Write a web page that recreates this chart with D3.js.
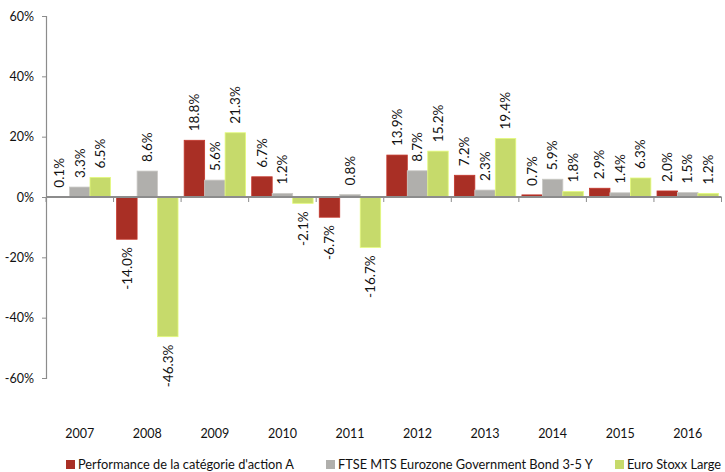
<!DOCTYPE html>
<html>
<head>
<meta charset="utf-8">
<script src="https://cdn.jsdelivr.net/npm/d3@7"></script>
<style>
  body { margin: 0; background: #fff; }
  svg { display: block; font-family: Lato, "Open Sans", sans-serif; }
</style>
</head>
<body>
<svg id="chart" width="725" height="472"></svg>
<script>
// Annual performance by year, in percent
const years = ["2007", "2008", "2009", "2010", "2011", "2012", "2013", "2014", "2015", "2016"];
const seriesNames = [
  "Performance de la catégorie d'action A",
  "FTSE MTS Eurozone Government Bond 3-5 Y",
  "Euro Stoxx Large"
];
const shareClassA = [0.1, -14.0, 18.8, 6.7, -6.7, 13.9, 7.2, 0.7, 2.9, 2.0];
const bondIndex   = [3.3, 8.6, 5.6, 1.2, 0.8, 8.7, 2.3, 5.9, 1.4, 1.5];
const euroStoxx   = [6.5, -46.3, 21.3, -2.1, -16.7, 15.2, 19.4, 1.8, 6.3, 1.2];
const yTicks = [-60, -40, -20, 0, 20, 40, 60];
const colors = ["#A92F25", "#B0AFAC", "#C6DA6B"];

const seriesValues = [shareClassA, bondIndex, euroStoxx];

const svg = d3.select("#chart");
const margin = { left: 46, right: 4, top: 16, bottom: 94 };

const x = d3.scaleBand().domain(years).range([margin.left, 721.5]).paddingInner(0).paddingOuter(0);
const xInner = d3.scaleBand().domain(d3.range(3)).range([0, x.bandwidth()]).paddingOuter(0.15).paddingInner(0);
const y = d3.scaleLinear().domain([-60, 60]).range([378, 16]);

// Y axis
const yAxis = svg.append("g")
  .attr("transform", `translate(${margin.left},0)`)
  .call(d3.axisLeft(y).tickValues(yTicks).tickSize(4).tickPadding(8).tickFormat(d => d + "%"));
yAxis.select(".domain").attr("stroke", "#8c8c8c").attr("stroke-width", 1.2);
yAxis.selectAll(".tick line").attr("stroke", "#8c8c8c");
yAxis.selectAll(".tick text").attr("font-size", 12.5).attr("fill", "#111").attr("font-family", "Lato, sans-serif");

// Bars
const groups = svg.append("g").selectAll("g")
  .data(years)
  .join("g")
  .attr("transform", d => `translate(${x(d)},0)`);

groups.each(function(yr, i) {
  const g = d3.select(this);
  seriesValues.forEach((vals, s) => {
    const v = vals[i];
    g.append("rect")
      .attr("x", xInner(s))
      .attr("width", xInner.bandwidth())
      .attr("y", y(Math.max(0, v)))
      .attr("height", Math.abs(y(v) - y(0)))
      .attr("fill", colors[s])
      .attr("stroke", d3.color(colors[s]).brighter(0.4))
      .attr("stroke-width", 0.8);
  });
});

// Zero baseline with category tick marks
svg.append("line")
  .attr("x1", margin.left).attr("x2", 721.5)
  .attr("y1", y(0)).attr("y2", y(0))
  .attr("stroke", "#8c8c8c").attr("stroke-width", 2);
svg.append("g").selectAll("line")
  .data(years.concat(["end"]))
  .join("line")
  .attr("x1", (d, i) => margin.left + i * x.bandwidth())
  .attr("x2", (d, i) => margin.left + i * x.bandwidth())
  .attr("y1", y(0)).attr("y2", y(0) + 5)
  .attr("stroke", "#8c8c8c").attr("stroke-width", 1);

// Value labels, rotated
groups.each(function(yr, i) {
  const g = d3.select(this);
  seriesValues.forEach((vals, s) => {
    const v = vals[i];
    const cx = xInner(s) + xInner.bandwidth() / 2;
    const pos = v >= 0;
    const ly = pos ? y(v) - 9 : y(v) + 8;
    g.append("text")
      .attr("transform", `translate(${cx},${ly}) rotate(-90)`)
      .attr("text-anchor", pos ? "start" : "end")
      .attr("dy", "0.35em")
      .attr("font-size", 13.5)
      .attr("fill", "#111")
      .text(v.toFixed(1) + "%");
  });
});

// X category labels
svg.append("g").selectAll("text")
  .data(years)
  .join("text")
  .attr("x", d => x(d) + x.bandwidth() / 2)
  .attr("y", 438)
  .attr("text-anchor", "middle")
  .attr("font-size", 12.5)
  .attr("fill", "#111")
  .text(d => d);

// Legend
const legendX = [66, 326, 615];
const legend = svg.append("g").selectAll("g")
  .data(seriesNames)
  .join("g")
  .attr("transform", (d, i) => `translate(${legendX[i]},460)`);
legend.append("rect")
  .attr("width", 9).attr("height", 9).attr("y", 0)
  .attr("fill", (d, i) => colors[i]);
legend.append("text")
  .attr("x", 12).attr("y", 9)
  .attr("font-size", 12.8)
  .attr("fill", "#111")
  .text(d => d);
</script>
</body>
</html>
